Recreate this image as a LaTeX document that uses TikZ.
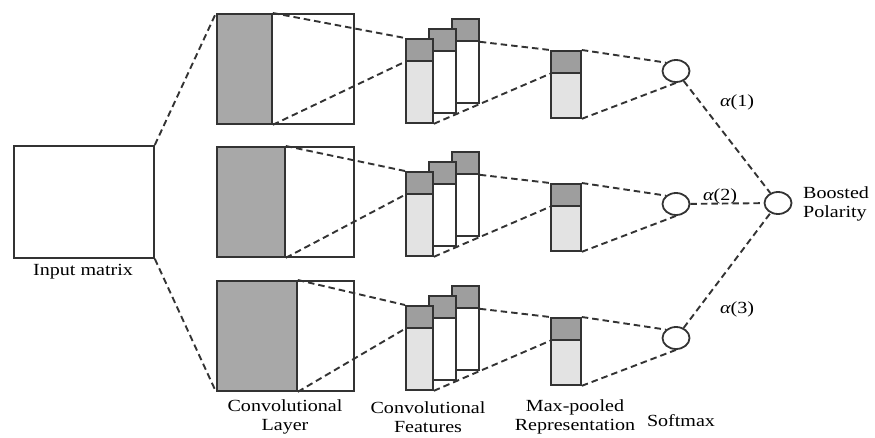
\documentclass[tikz,border=0pt]{standalone}
\usepackage{fontspec}
\setmainfont{Liberation Serif}[FakeStretch=1.18]
\usetikzlibrary{shapes.geometric}

\definecolor{edge}{gray}{0.2}
\definecolor{convgray}{gray}{0.66}
\definecolor{fdark}{gray}{0.62}
\definecolor{flight}{gray}{0.89}

\begin{document}
\begin{tikzpicture}[x=1pt,y=-1pt,font=\fontsize{17}{19}\selectfont]
    \tikzset{blk/.style= {draw=edge, line width=1.8pt, rectangle, inner sep=0pt, anchor=north west} }
    \tikzset{unit/.style= {draw=edge, line width=1.8pt, ellipse, inner sep=0pt, minimum width=27pt, minimum height=22pt} }
    \tikzset{link/.style= {draw=edge, line width=1.9pt, dash pattern=on 6.5pt off 4pt} }
    \tikzset{lbl/.style= {align=center, inner sep=0pt} }
    \useasboundingbox (0,0) rectangle (875,437);

    \node[blk, minimum width=140pt, minimum height=112pt] (inp) at (13,145) {};
    \node[lbl] (inp-label) at (83,272) {Input matrix};

    \node[unit] (bp) at (778,203) {};
    \node[lbl, anchor=west, align=left] (bp-label) at (803,204) {Boosted\\Polarity};

    % one row per filter size: row, vertical offset, width of the dark window
    \foreach \r/\dy/\w in {1/0/55, 2/133/68, 3/267/80} {
      \node[blk, fill=white, minimum width=137pt, minimum height=110pt] (conv-\r) at (216,13+\dy) {};
      \node[blk, fill=convgray, minimum width=\w pt, minimum height=110pt] (convd-\r) at (216,13+\dy) {};

      % feature maps, back to front
      \node[blk, fill=white, minimum width=27pt, minimum height=84pt] (fc-\r) at (451,18+\dy) {};
      \node[blk, fill=fdark, minimum width=27pt, minimum height=22pt] (fcd-\r) at (451,18+\dy) {};
      \node[blk, fill=white, minimum width=27pt, minimum height=84pt] (fb-\r) at (428,28+\dy) {};
      \node[blk, fill=fdark, minimum width=27pt, minimum height=22pt] (fbd-\r) at (428,28+\dy) {};
      \node[blk, fill=flight, minimum width=27pt, minimum height=84pt] (fa-\r) at (405,38+\dy) {};
      \node[blk, fill=fdark, minimum width=27pt, minimum height=22pt] (fad-\r) at (405,38+\dy) {};

      \node[blk, fill=flight, minimum width=30pt, minimum height=67pt] (mp-\r) at (550,50+\dy) {};
      \node[blk, fill=fdark, minimum width=30pt, minimum height=22pt] (mpd-\r) at (550,50+\dy) {};

      \node[unit] (sm-\r) at (676,71+\dy) {};

      \path[link] (convd-\r.north east) -- (fa-\r.north west);
      \path[link] (convd-\r.south east) -- (fad-\r.south west);
      \path[link] (fcd-\r.south east) -- (mp-\r.north west);
      \path[link] (fa-\r.south east) -- (mpd-\r.south west);
      \path[link] (mp-\r.north east) -- (sm-\r.north west);
      \path[link] (mp-\r.south east) -- (sm-\r.south);
      \path[link] (sm-\r) -- (bp);
    }

    \path[link] (inp.north east) -- (conv-1.north west);
    \path[link] (inp.south east) -- (conv-3.south west);

    \node[lbl] (w1) at (737,102) {{\itshape α}(1)};
    \node[lbl] (w2) at (720,196) {{\itshape α}(2)};
    \node[lbl] (w3) at (737,309) {{\itshape α}(3)};

    \node[lbl] (conv-label) at (285,417) {Convolutional\\Layer};
    \node[lbl] (feat-label) at (428,417) {Convolutional\\Features};
    \node[lbl] (mp-label) at (575,417) {Max-pooled\\Representation};
    \node[lbl] (sm-label) at (681,421) {Softmax};
\end{tikzpicture}
\end{document}
